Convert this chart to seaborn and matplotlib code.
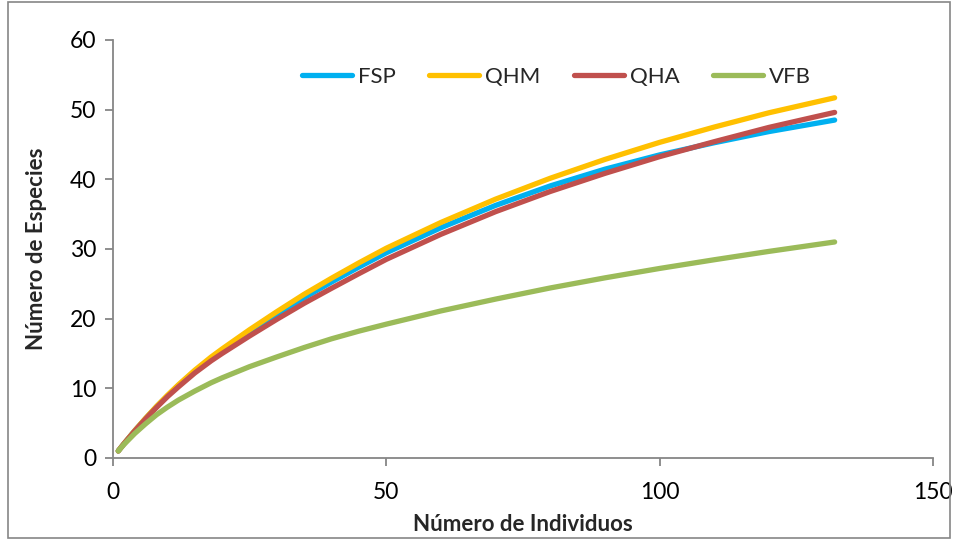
import matplotlib
matplotlib.use("Agg")
import matplotlib.pyplot as plt
from matplotlib.patches import Rectangle
import seaborn as sns
import pandas as pd

# Rarefaction curves: expected number of species vs. number of individuals
individuos = [1, 2, 4, 6, 8, 10, 12, 15, 18, 20, 25, 30, 35, 40, 45, 50,
              60, 70, 80, 90, 100, 110, 120, 132]
fsp = [1.0, 2.0, 3.9, 5.65, 7.35, 8.9, 10.4, 12.45, 14.3, 15.4, 18.05, 20.55,
       23.0, 25.25, 27.4, 29.45, 33.05, 36.25, 39.05, 41.45, 43.5, 45.25,
       46.85, 48.5]
qhm = [1.0, 2.0, 3.9, 5.7, 7.4, 9.0, 10.5, 12.6, 14.5, 15.65, 18.4, 21.0,
       23.5, 25.8, 28.0, 30.1, 33.8, 37.15, 40.15, 42.85, 45.3, 47.5,
       49.55, 51.7]
qha = [1.0, 2.0, 3.85, 5.6, 7.25, 8.8, 10.2, 12.2, 13.95, 15.0, 17.5, 19.9,
       22.2, 24.35, 26.45, 28.5, 32.1, 35.35, 38.25, 40.85, 43.25, 45.4,
       47.45, 49.6]
vfb = [1.0, 1.9, 3.5, 4.9, 6.2, 7.3, 8.3, 9.6, 10.8, 11.5, 13.1, 14.5,
       15.85, 17.1, 18.2, 19.2, 21.1, 22.8, 24.4, 25.85, 27.2, 28.45,
       29.65, 31.0]

sitios = ["FSP", "QHM", "QHA", "VFB"]
colores = ["#00B0F0", "#FFC000", "#C0504D", "#9BBB59"]

df = pd.concat(
    [pd.DataFrame({"Individuos": individuos, "Especies": vals, "Sitio": s})
     for s, vals in zip(sitios, [fsp, qhm, qha, vfb])],
    ignore_index=True,
)

sns.set_theme(style="white")
plt.rcParams["font.family"] = ["Lato", "DejaVu Sans"]

fig = plt.figure(figsize=(9.56, 5.4), dpi=100)
ax = fig.add_axes([0.118, 0.152, 0.858, 0.774])

sns.lineplot(data=df, x="Individuos", y="Especies", hue="Sitio",
             hue_order=sitios, palette=colores, linewidth=3.8,
             solid_capstyle="round", solid_joinstyle="round", ax=ax,
             legend=True)

ax.set_xlim(0, 150)
ax.set_ylim(0, 60)
ax.set_xticks([0, 50, 100, 150])
ax.set_yticks(range(0, 61, 10))

gris = "#868686"
for side in ["top", "right"]:
    ax.spines[side].set_visible(False)
for side in ["left", "bottom"]:
    ax.spines[side].set_color(gris)
    ax.spines[side].set_linewidth(1.3)
ax.tick_params(axis="both", which="major", direction="out", length=6,
               width=1.3, color=gris, labelsize=16.5, labelcolor="black",
               bottom=True, left=True)
ax.tick_params(axis="x", pad=11)
ax.tick_params(axis="y", pad=6)

ax.set_xlabel("Número de Individuos", fontsize=16, fontweight="bold",
              labelpad=8)
ax.set_ylabel("Número de Especies", fontsize=16, fontweight="bold",
              labelpad=16)

leg = ax.legend(ncol=4, frameon=False, fontsize=16, handlelength=2.25,
                handletextpad=0.27, columnspacing=1.5,
                loc="center", bbox_to_anchor=(0.541, 0.912))
for h in leg.get_lines():
    h.set_linewidth(3.8)
    h.set_solid_capstyle("round")

# outer chart frame
fig.patches.append(Rectangle((0.008, 0.004), 0.986, 0.992,
                             transform=fig.transFigure, fill=False,
                             edgecolor=gris, linewidth=1.2))

fig.savefig("out.png", dpi=100)
